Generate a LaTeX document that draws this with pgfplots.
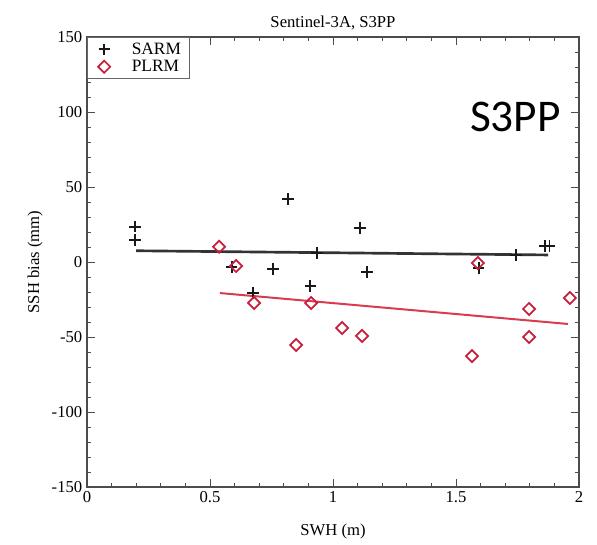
\documentclass[border=0pt]{standalone}
\usepackage{fontspec}
\setmainfont{Liberation Serif}
\newfontfamily\calfont{Carlito}
\usepackage{pgfplots}
\pgfplotsset{compat=1.18}
\definecolor{plrm}{RGB}{200,30,60}
\definecolor{plrmline}{RGB}{215,60,80}
\begin{document}
\begin{tikzpicture}
\begin{axis}[
  scale only axis, width=369pt, height=337.5pt,
  xmin=0, xmax=2, ymin=-150, ymax=150,
  xtick={0,0.5,1,1.5,2}, xticklabels={0,0.5,1,1.5,2},
  ytick={-150,-100,-50,0,50,100,150},
  minor x tick num=4, minor y tick num=4,
  tick align=inside, major tick length=6pt, minor tick length=3pt,
  axis line style={black!70, line width=0.8pt},
  tick style={black!70, line width=0.7pt},
  /pgf/number format/assume math mode=true,
  ticklabel style={font=\fontsize{12.5}{14}\selectfont},
  title={Sentinel-3A, S3PP},
  title style={font=\fontsize{12.5}{14}\selectfont, at={(0.5,1)}, anchor=south, yshift=-4.5pt},
  xlabel={SWH (m)}, ylabel={SSH bias (mm)},
  label style={font=\fontsize{12.5}{14}\selectfont},
  xlabel style={yshift=-9pt},
  legend style={at={(0,1)}, anchor=north west, draw=black!60, font=\fontsize{13}{15}\selectfont,
    inner xsep=4pt, inner ysep=2pt, row sep=-1pt},
  legend cell align=left,
  legend image code/.code={\draw[#1, mark repeat=1, mark phase=1] plot coordinates {(0pt,0pt)}; \path (-8pt,0pt) (18pt,0pt);},
]
\addplot[only marks, mark=+, mark size=4.2pt, line width=1.4pt, black!90] coordinates {
  (0.195,23.5) (0.195,14.7) (0.817,42) (0.589,-3.3) (0.756,-4.7) (0.675,-20.7)
  (0.907,-16) (0.935,6) (1.110,22.7) (1.138,-6.7) (1.593,-4) (1.744,4.7)
  (1.862,10.7) (1.880,10.7)
};
\addlegendentry{SARM}
\addplot[only marks, mark=square, mark options={rotate=45}, mark size=3.2pt, line width=1.3pt, plrm] coordinates {
  (0.537,10.2) (0.606,-2.7) (0.679,-27.3) (0.911,-27.3) (0.850,-55.3) (1.037,-44)
  (1.118,-49.3) (1.589,-0.7) (1.565,-62.7) (1.797,-31.3) (1.797,-50) (1.963,-24)
};
\addlegendentry{PLRM}
\addplot[black!80, line width=2pt, forget plot] coordinates {(0.2,7.5) (1.874,4.7)};
\addplot[plrmline, line width=1.5pt, forget plot] coordinates {(0.54,-20.7) (1.955,-41.3)};
\node[anchor=north west, inner sep=0pt, font=\calfont\fontsize{34}{40}\selectfont] at (rel axis cs:0.778,0.856) {S3PP};
\end{axis}
\path ([shift={(-65.25pt,-42.75pt)}]current axis.south west) rectangle ([shift={(13.5pt,27.75pt)}]current axis.north east);
\end{tikzpicture}
\end{document}
